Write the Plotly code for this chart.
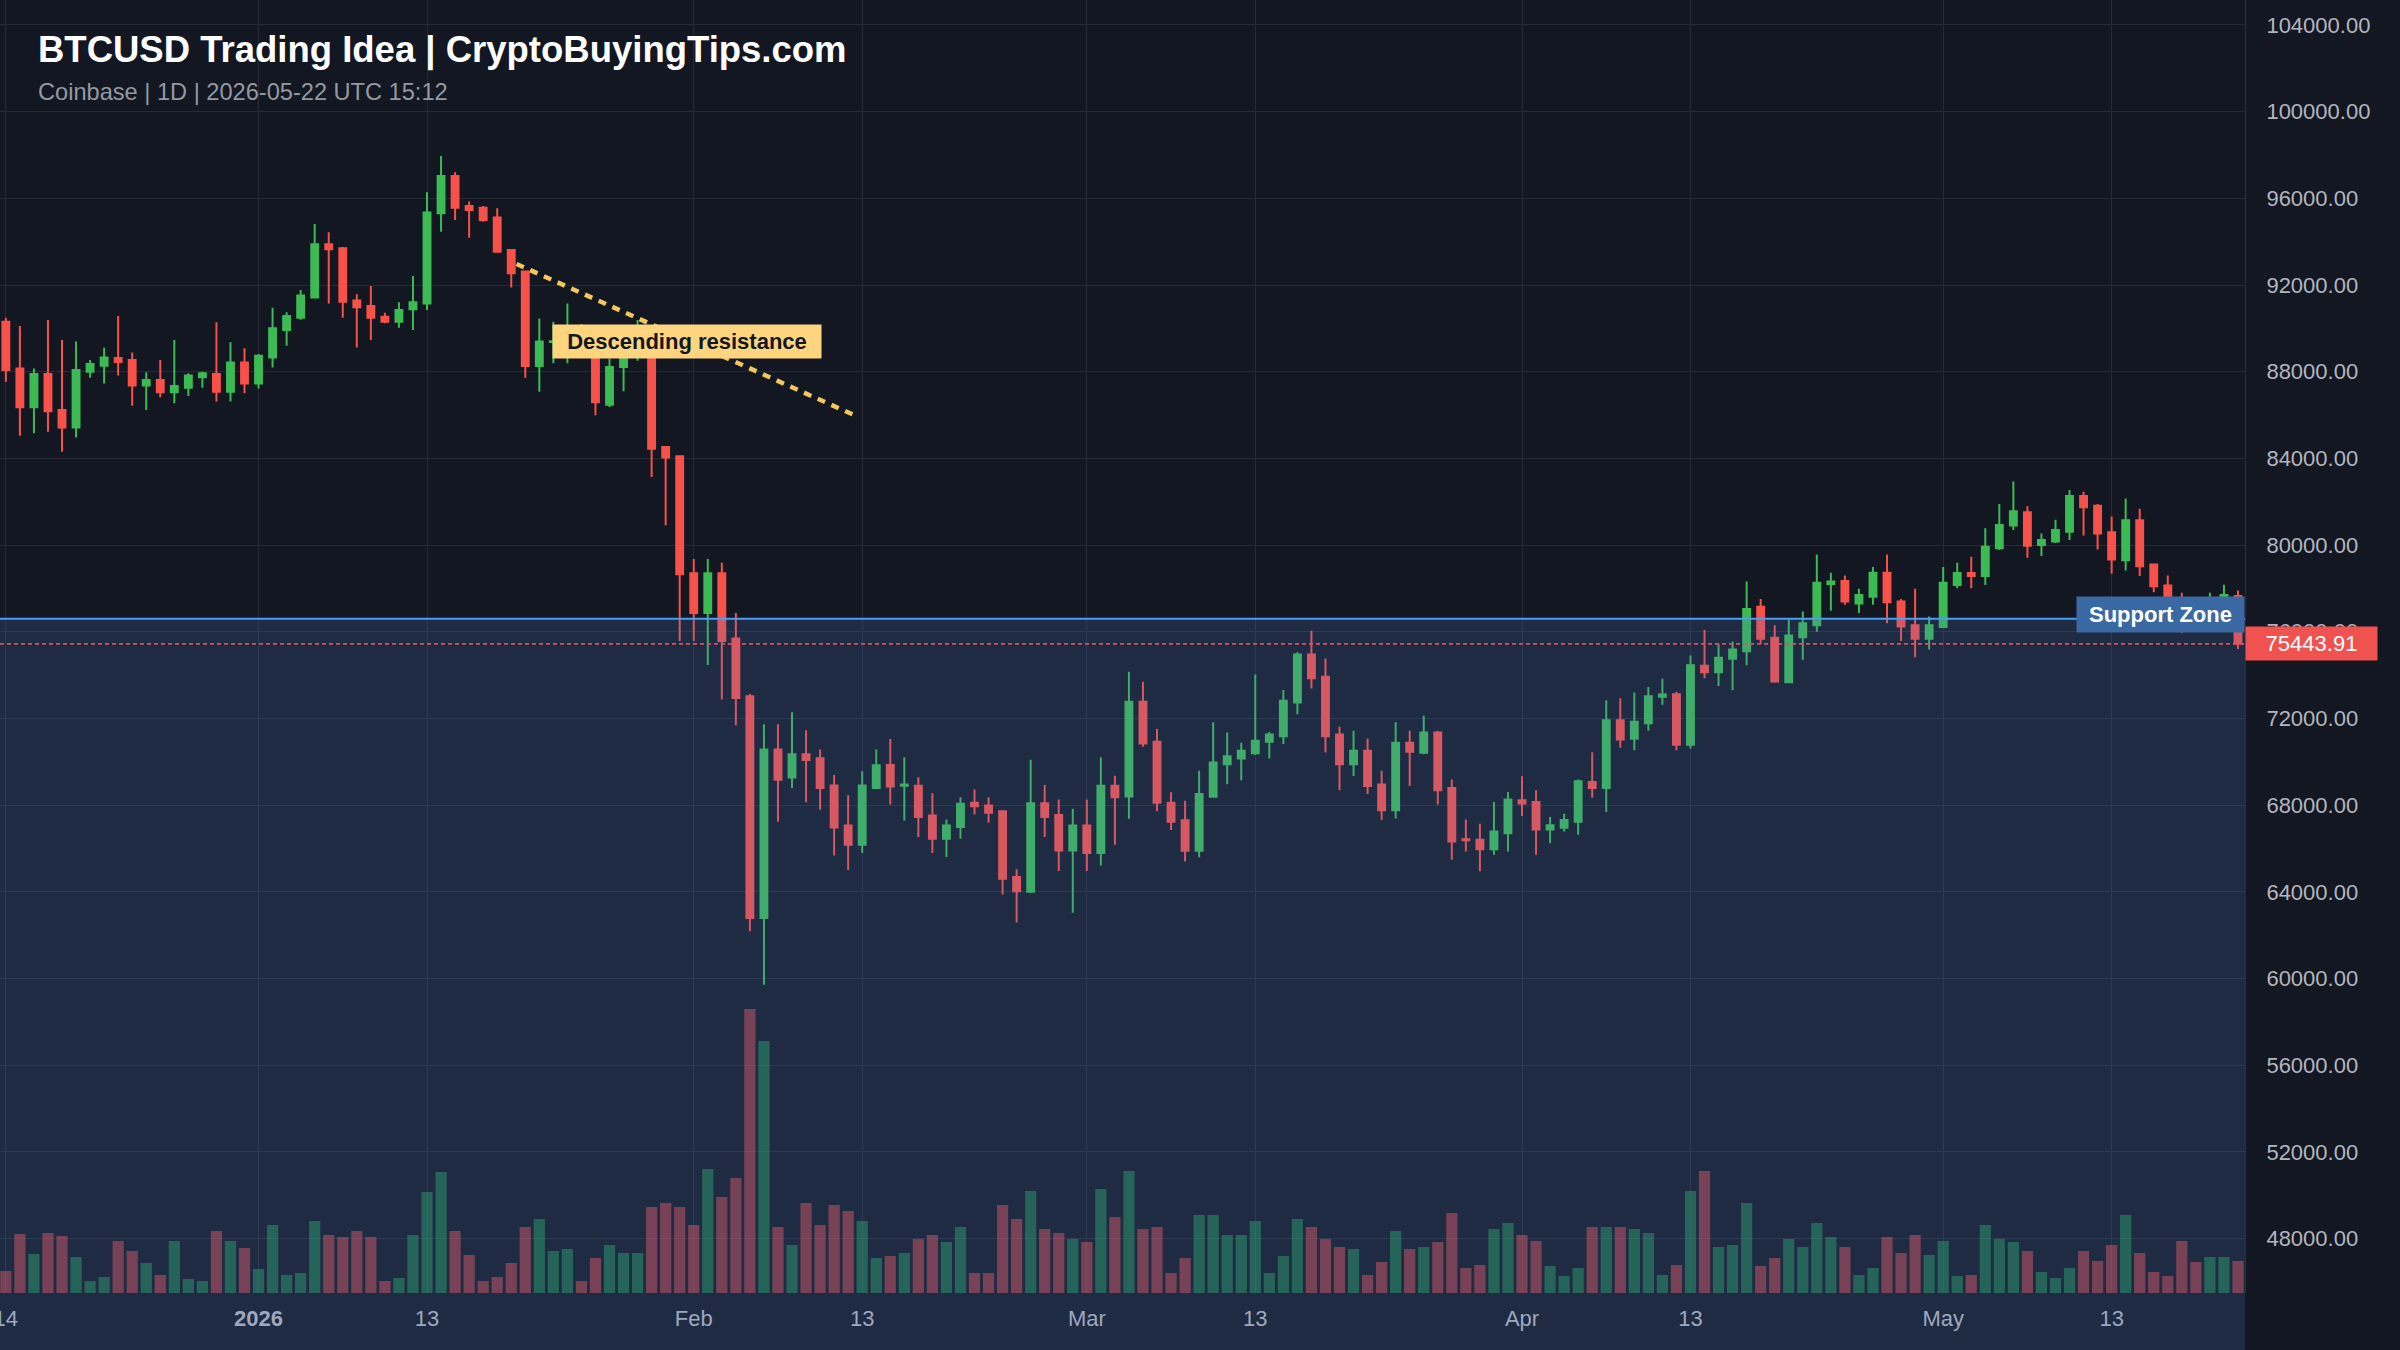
import pandas as pd
import plotly.graph_objects as go

# ---------------- data ----------------
start_date = "2025-12-14"

opens = [
    90310, 88150, 86360, 87890, 86230, 85420, 88000, 88280, 88630, 88540,
    87360, 87620, 87050, 87260, 87740, 87890, 87080, 88430, 87460, 88650,
    89920, 90490, 91420, 93880, 93690, 91280, 91030, 90540, 90310, 90880,
    91150, 95310, 97030, 95650, 95570, 95110, 93620, 92620, 88260, 89370,
    89400, 90000, 88930, 86480, 88220, 88800, 89500, 84520, 84100, 78700,
    76870, 78700, 75690, 73020, 62790, 70570, 69280, 70350, 70170, 68910,
    67060, 66170, 68790, 69850, 68900, 68900, 67520, 66450, 66990, 68110,
    67980, 67720, 64690, 64000, 68090, 67550, 65910, 67060, 65790, 68900,
    68400, 72770, 70930, 68110, 67300, 65900, 68390, 69890, 70150, 70390,
    70920, 71180, 72740, 74950, 73920, 71260, 69890, 70510, 68950, 67770,
    70880, 70420, 71350, 68790, 66430, 66400, 65970, 66700, 68230, 68150,
    66880, 66960, 67240, 69070, 68790, 71920, 71060, 71780, 73000, 73120,
    70790, 74430, 74130, 74760, 75100, 77150, 75720, 73670, 75750, 76300,
    78210, 78340, 77310, 77620, 78720, 77400, 76300, 75680, 76220, 78160,
    78710, 78570, 79850, 80900, 81510, 80000, 80160, 80620, 82260, 81820,
    80590, 79300, 81140, 79100, 78130, 77400, 77000, 76600, 77300, 77650,
]
highs = [
    90490, 90110, 88150, 90390, 89460, 89390, 88540, 89110, 90570, 88890,
    87970, 88540, 89460, 87930, 88000, 90280, 89360, 89080, 88820, 90950,
    90740, 91770, 94810, 94430, 93750, 91570, 91950, 90720, 91200, 92420,
    96280, 97950, 97200, 95850, 95650, 95540, 93620, 92620, 90460, 90310,
    91150, 90200, 89300, 88600, 89100, 90380, 89900, 84520, 84100, 79360,
    79360, 79180, 76870, 73130, 71730, 71730, 72290, 71460, 70570, 69390,
    68460, 69570, 70570, 71050, 70210, 69290, 68550, 67340, 68370, 68720,
    68370, 67720, 65040, 70100, 68930, 68260, 67830, 68260, 70210, 69360,
    74160, 73690, 71510, 68590, 68200, 69590, 71820, 71350, 70880, 74030,
    71380, 73310, 75050, 76050, 74770, 71620, 71430, 71080, 69590, 71820,
    71430, 72120, 71430, 69180, 67340, 67140, 68150, 68610, 69330, 68690,
    67450, 67600, 69180, 70440, 72840, 72930, 73200, 73450, 73830, 73230,
    74910, 76080, 75430, 75550, 78320, 77510, 76300, 76550, 76940, 79570,
    78720, 78600, 77980, 78990, 79570, 77510, 77980, 76700, 78990, 79180,
    79460, 80780, 81900, 82930, 81790, 80540, 81170, 82540, 82460, 81900,
    81320, 82150, 81680, 79150, 78600, 77800, 77500, 77800, 78170, 77900,
]
lows = [
    87540, 85050, 85160, 85230, 84310, 84960, 87720, 87460, 87820, 86430,
    86230, 86820, 86540, 86880, 87260, 86620, 86620, 87000, 87230, 88190,
    89200, 90400, 91380, 91150, 90490, 89120, 89460, 90230, 90030, 89920,
    90850, 94460, 95000, 94180, 94920, 93500, 91880, 87720, 87080, 88390,
    88390, 88700, 85990, 86370, 87100, 88500, 83140, 80920, 75580, 75580,
    74470, 72870, 71690, 62180, 59710, 67240, 68790, 68130, 67790, 65680,
    65010, 65790, 68730, 68030, 67290, 66530, 65790, 65610, 66450, 67570,
    67190, 63880, 62590, 63950, 66530, 64960, 63030, 64960, 65220, 66170,
    67370, 70700, 67720, 66850, 65400, 65600, 68340, 68970, 69150, 70310,
    70150, 70820, 72200, 73380, 70430, 68690, 69340, 68510, 67310, 67390,
    68880, 70350, 68030, 65480, 65860, 64950, 65710, 65860, 67500, 65710,
    66240, 66780, 66630, 68340, 67690, 70650, 70530, 71430, 72630, 70530,
    70610, 73860, 73500, 73300, 74460, 75440, 73650, 73620, 74710, 76000,
    76970, 77250, 76870, 77250, 76390, 75570, 74830, 75180, 76180, 78010,
    78010, 78160, 79770, 80700, 79410, 79500, 80100, 80230, 80440, 79800,
    78680, 78830, 78570, 77820, 77000, 75950, 76200, 76400, 76900, 75210,
]
closes = [
    88080, 86360, 87890, 86170, 85420, 88080, 88360, 88650, 88450, 87360,
    87620, 87050, 87340, 87820, 87930, 87080, 88430, 87460, 88740, 90000,
    90570, 91510, 93880, 93650, 91230, 90970, 90490, 90310, 90850, 91200,
    95350, 97030, 95570, 95460, 95000, 93540, 92540, 88260, 89390, 89400,
    90000, 89200, 86590, 88220, 88600, 89500, 84440, 84040, 78650, 76870,
    78700, 75580, 72950, 62790, 70570, 69170, 70350, 70080, 68790, 66970,
    66170, 68910, 69840, 68860, 68950, 67450, 66450, 67060, 68060, 67950,
    67650, 64610, 64030, 68090, 67450, 65910, 67060, 65790, 68900, 68370,
    72770, 70850, 68110, 67230, 65900, 68510, 69970, 70260, 70510, 70970,
    71260, 72820, 74950, 73850, 71180, 69890, 70510, 68880, 67770, 70880,
    70460, 71350, 68690, 66320, 66380, 65970, 66780, 68260, 68080, 66880,
    67070, 67310, 69100, 68790, 71920, 71030, 71850, 73030, 73110, 70790,
    74460, 74130, 74800, 75180, 77050, 75680, 73700, 75830, 76390, 78260,
    78320, 77400, 77700, 78720, 77360, 76240, 75680, 76300, 78260, 78710,
    78570, 79920, 80930, 81560, 79970, 80230, 80700, 82260, 81740, 80540,
    79330, 81140, 79020, 78100, 77400, 76900, 76600, 77400, 77700, 75443.91,
]
volumes = [
    2.2, 5.9, 3.9, 6.0, 5.7, 3.6, 1.2, 1.6, 5.2, 4.2,
    3.0, 1.8, 5.2, 1.4, 1.2, 6.2, 5.2, 4.5, 2.4, 6.8,
    1.8, 2.0, 7.2, 5.8, 5.6, 6.2, 5.6, 1.2, 1.5, 5.8,
    10.1, 12.1, 6.2, 3.8, 1.2, 1.6, 3.0, 6.6, 7.4, 4.2,
    4.4, 1.2, 3.5, 4.8, 4.0, 4.0, 8.6, 9.0, 8.6, 6.8,
    12.4, 9.6, 11.5, 28.4, 25.2, 6.6, 4.8, 9.0, 6.8, 8.8,
    8.2, 7.2, 3.5, 3.7, 4.0, 5.4, 5.8, 5.1, 6.6, 2.0,
    2.0, 8.8, 7.4, 10.2, 6.4, 6.0, 5.4, 5.1, 10.4, 7.6,
    12.2, 6.4, 6.6, 2.0, 3.5, 7.8, 7.8, 5.8, 5.8, 7.2,
    2.0, 3.7, 7.4, 6.6, 5.4, 4.6, 4.4, 1.8, 3.1, 6.2,
    4.4, 4.6, 5.1, 8.0, 2.5, 2.8, 6.4, 7.0, 5.8, 5.2,
    2.7, 1.7, 2.5, 6.6, 6.6, 6.6, 6.4, 6.0, 1.8, 2.8,
    10.2, 12.2, 4.6, 4.8, 9.0, 2.7, 3.5, 5.4, 4.6, 7.0,
    5.6, 4.6, 1.8, 2.5, 5.6, 4.0, 5.8, 3.8, 5.2, 1.7,
    1.8, 6.8, 5.4, 5.1, 4.2, 2.1, 1.5, 2.5, 4.2, 3.2,
    4.8, 7.8, 4.0, 2.1, 1.7, 5.2, 3.1, 3.6, 3.6, 3.2,
]

tick_dates = ["2025-12-14", "2026-01-01", "2026-01-13", "2026-02-01", "2026-02-13",
              "2026-03-01", "2026-03-13", "2026-04-01", "2026-04-13", "2026-05-01", "2026-05-13"]
tick_text = ["14", "<b>2026</b>", "13", "Feb", "13", "Mar", "13", "Apr", "13", "May", "13"]

support_level = 76600
last_price = closes[-1]
resistance_dates = ["2026-01-19 09:00", "2026-02-12 07:30"]
resistance_prices = [92970, 86030]
resistance_label_pos = ("2026-01-21 22:00", 89400)

x_range = ["2025-12-13 14:00", "2026-05-22 12:00"]
y_range = [45491, 105150]
vol_range = [0, 129.3]

title_text = "BTCUSD Trading Idea | CryptoBuyingTips.com"
subtitle_text = "Coinbase | 1D | 2026-05-22 UTC 15:12"

# ---------------- figure ----------------
dates = pd.date_range(start=start_date, periods=len(opens), freq="D")

UP = "#3cba54"
DOWN = "#f85149"
vol_colors = ["rgba(38,170,91,0.5)" if c >= o else "rgba(239,83,80,0.5)"
              for o, c in zip(opens, closes)]

fig = go.Figure()
fig.add_trace(go.Bar(x=dates, y=volumes, marker=dict(color=vol_colors, line=dict(width=0)),
                     yaxis="y2", hoverinfo="skip"))
fig.add_trace(go.Candlestick(
    x=dates, open=opens, high=highs, low=lows, close=closes,
    increasing=dict(line=dict(color=UP, width=2), fillcolor=UP),
    decreasing=dict(line=dict(color=DOWN, width=2), fillcolor=DOWN),
    whiskerwidth=0, hoverinfo="skip",
))

GRID = "#262a36"
FONT = "Liberation Sans, Arial, sans-serif"

fig.update_layout(
    width=2400, height=1350,
    margin=dict(l=0, r=155, t=0, b=57, autoexpand=False),
    paper_bgcolor="#131722", plot_bgcolor="#131722",
    showlegend=False, hovermode=False,
    font=dict(family=FONT, color="#b2b5be"),
    bargap=0.2, boxgap=0.3,
    xaxis=dict(
        type="date", range=x_range, rangeslider=dict(visible=False),
        tickmode="array", tickvals=tick_dates, ticktext=tick_text,
        tickfont=dict(size=22, color="#b2b5be"),
        showgrid=True, gridcolor=GRID, gridwidth=1,
        zeroline=False, showline=False, ticks="",
        ticklabelstandoff=10, ticklabeloverflow="allow", automargin=False,
    ),
    yaxis=dict(
        side="right", range=y_range, tick0=0, dtick=4000, tickformat=".2f",
        tickfont=dict(size=22, color="#b2b5be"),
        showgrid=True, gridcolor=GRID, gridwidth=1,
        zeroline=False, ticks="", ticklabelstandoff=16, automargin=False,
        showline=True, linecolor="#2a2e39", linewidth=1,
    ),
    yaxis2=dict(overlaying="y", range=vol_range, visible=False),
)

ZONE = "rgba(80,120,200,0.2)"
shapes = [
    dict(type="rect", xref="paper", yref="y", x0=0, x1=1, y0=y_range[0], y1=support_level,
         fillcolor=ZONE, line=dict(width=0), layer="above"),
    dict(type="rect", xref="paper", yref="paper", x0=0, x1=1, y0=-0.06, y1=0,
         fillcolor=ZONE, line=dict(width=0), layer="above"),
    dict(type="line", xref="paper", yref="y", x0=0, x1=1, y0=support_level, y1=support_level,
         line=dict(color="#4a9df8", width=2), layer="above"),
    dict(type="line", xref="paper", yref="y", x0=0, x1=1, y0=last_price, y1=last_price,
         line=dict(color="#d9505f", width=1.6, dash="4px,3px"), layer="above"),
    dict(type="line", xref="x", yref="y",
         x0=resistance_dates[0], x1=resistance_dates[1],
         y0=resistance_prices[0], y1=resistance_prices[1],
         line=dict(color="#f2c75c", width=4.5, dash="8px,7px"), layer="above"),
]
fig.update_layout(shapes=shapes)

annotations = [
    dict(text=f"<b>{title_text}</b>", xref="paper", yref="paper", x=0, y=1,
         xanchor="left", yanchor="middle", xshift=36, yshift=-50, showarrow=False,
         font=dict(family=FONT, size=36.5, color="#ffffff")),
    dict(text=subtitle_text, xref="paper", yref="paper", x=0, y=1,
         xanchor="left", yanchor="middle", xshift=36, yshift=-92, showarrow=False,
         font=dict(family=FONT, size=23.6, color="#9598a1")),
    dict(text="<b>Descending resistance</b>", xref="x", yref="y",
         x=resistance_label_pos[0], y=resistance_label_pos[1],
         xanchor="left", yanchor="middle", showarrow=False,
         bgcolor="#fdd57e", borderpad=4, width=260,
         font=dict(family=FONT, size=22, color="#131722")),
    dict(text="<b>Support Zone</b>", xref="paper", yref="y", x=1, y=support_level,
         xanchor="right", yanchor="middle", yshift=4, showarrow=False,
         bgcolor="#3a68a2", borderpad=5, width=157,
         font=dict(family=FONT, size=22, color="#ffffff")),
    dict(text=f"{last_price:.2f}", xref="paper", yref="y", x=1, y=last_price,
         xanchor="left", yanchor="middle", showarrow=False,
         bgcolor="#f0524f", borderpad=4, width=123,
         font=dict(family=FONT, size=22, color="#ffffff")),
]
fig.update_layout(annotations=annotations)

fig.write_html("out.html", config={"displayModeBar": False},
               post_script="document.body.style.margin='0';document.body.style.overflow='hidden';")
